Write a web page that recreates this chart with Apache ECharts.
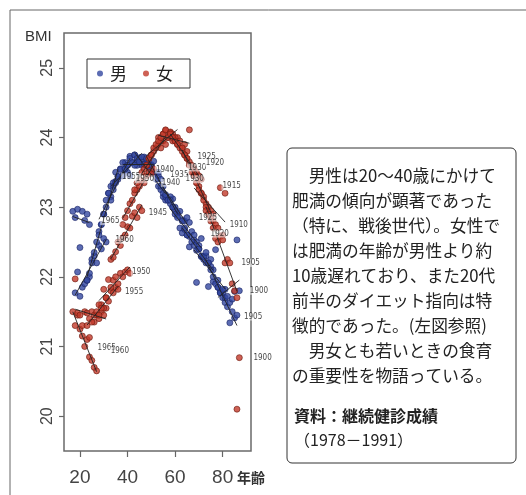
<!DOCTYPE html>
<html>
<head>
<meta charset="utf-8">
<title>BMI</title>
<script src="https://cdn.jsdelivr.net/npm/echarts@6/dist/echarts.min.js"></script>
<style>
    html, body {margin: 0; padding: 0; background: #fff;}
    #main {width: 526px; height: 495px;}
</style>
</head>
<body>
<div id="main"></div>
<script>
//出生コホート（1978-1991 の各年の値）
var cohortYears = [1965, 1960, 1955, 1950, 1945, 1940, 1935, 1930, 1925, 1920, 1915, 1910, 1905, 1900];

//男
var maleStartAge = [17, 18, 23, 28, 33, 38, 43, 48, 53, 58, 63, 68, 73, 78];
var maleBmi = [
    [22.94, 22.85, 22.97, 22.42, 22.94, 22.81, 22.9, 22.75],
    [21.77, 22.07, 21.72, 21.85, 21.9, 21.95, 22.0, 22.25, 22.3, 22.2, 22.45, 22.4, 22.55, 22.5],
    [21.95, 22.05, 22.2, 22.35, 22.5, 22.65, 22.75, 22.9, 23.0, 23.2, 23.15, 23.3, 23.37, 23.44],
    [22.6, 22.75, 22.9, 23.1, 23.2, 23.3, 23.35, 23.5, 23.4, 23.55, 23.45, 23.64, 23.5, 23.45],
    [23.1, 23.25, 23.35, 23.44, 23.54, 23.64, 23.55, 23.6, 23.73, 23.64, 23.75, 23.6, 23.68, 23.62],
    [23.45, 23.55, 23.6, 23.7, 23.64, 23.75, 23.68, 23.71, 23.6, 23.72, 23.66, 23.6, 23.55, 23.48],
    [23.6, 23.7, 23.65, 23.72, 23.62, 23.68, 23.55, 23.61, 23.5, 23.4, 23.3, 23.25, 23.15, 23.1],
    [23.7, 23.65, 23.6, 23.66, 23.5, 23.45, 23.3, 23.2, 23.15, 23.1, 23.05, 23.12, 23.0, 22.92],
    [23.5, 23.4, 23.3, 23.18, 23.1, 23.15, 23.0, 22.95, 22.88, 22.94, 22.82, 22.8, 22.85, 22.78],
    [23.1, 23.0, 22.9, 22.85, 22.7, 22.63, 22.68, 22.6, 22.58, 22.65, 22.53, 22.5, 22.45, 22.55],
    [22.8, 22.7, 22.6, 22.43, 22.5, 22.45, 22.38, 22.4, 22.29, 22.25, 22.3, 22.2, 22.15, 22.1],
    [22.6, 21.92, 22.4, 22.3, 22.29, 22.2, 21.86, 22.25, 21.93, 22.39, 21.95, 21.8, 21.77, 21.82],
    [22.35, 22.2, 22.1, 22.0, 21.9, 21.85, 21.77, 21.7, 21.63, 21.57, 21.34, 21.5, 21.41, 21.45],
    [21.85, 21.77, 21.82, 21.7, 21.72, 21.63, 21.68, 21.79, 22.53, 21.8]
];

//女
var femaleStartAge = [17, 18, 23, 28, 33, 38, 43, 48, 53, 58, 63, 68, 73, 86];
var femaleBmi = [
    [21.5, 21.3, 21.45, 21.25, 21.15, 21.0, 21.1, 20.85, 20.8, 20.7, 20.65],
    [21.97, 21.48, 21.45, 21.3, 21.5, 21.48, 21.13, 21.5, 21.35, 21.45, 21.4, 21.5, 21.45, 21.55],
    [21.3, 21.4, 21.35, 21.45, 21.5, 21.45, 21.6, 21.55, 21.7, 21.65, 21.8, 21.77, 21.85, 21.82],
    [21.6, 21.55, 21.82, 21.7, 21.96, 21.85, 21.95, 22.0, 21.9, 22.05, 22.0, 22.07, 22.1, 22.05],
    [22.25, 22.28, 22.36, 22.5, 22.45, 22.56, 22.6, 22.72, 22.7, 22.87, 22.92, 22.85, 23.0, 22.95],
    [22.75, 22.85, 22.95, 23.05, 23.1, 23.2, 23.25, 23.3, 23.38, 23.35, 23.45, 23.5, 23.48, 23.55],
    [23.25, 23.35, 23.4, 23.5, 23.55, 23.6, 23.7, 23.75, 23.8, 23.85, 23.9, 23.85, 23.95, 23.9],
    [23.6, 23.7, 23.75, 23.85, 23.9, 24.0, 23.95, 24.05, 24.1, 24.0, 24.08, 24.05, 23.95, 24.0],
    [23.95, 24.0, 24.05, 24.11, 24.0, 24.07, 23.95, 24.0, 23.9, 23.95, 23.85, 23.9, 23.8, 24.11],
    [24.05, 24.0, 23.95, 23.9, 23.85, 23.8, 23.75, 23.7, 23.65, 23.6, 23.55, 23.5, 23.45, 23.4],
    [23.85, 23.75, 23.7, 23.6, 23.5, 23.45, 23.35, 23.3, 23.2, 23.15, 23.05, 23.0, 22.95, 22.9],
    [23.45, 23.35, 23.25, 23.2, 23.1, 23.0, 22.9, 22.85, 22.8, 22.75, 22.7, 23.28, 22.6, 23.2],
    [22.95, 22.9, 22.8, 22.7, 22.55, 22.5, 22.58, 22.53, 22.2, 22.25, 22.2, 21.9, 21.8, 21.7],
    [20.1, 20.84]
];

//コホートの年ラベル [年齢, BMI, 出生年]
var maleTags = [[28.5, 22.8, '1965'], [34.5, 22.53, '1960'], [37.3, 23.43, '1955'], [43, 23.4, '1950'],
    [54, 23.35, '1940'], [57.5, 23.47, '1935'], [64, 23.4, '1930'], [69.5, 22.85, '1925'],
    [74.5, 22.62, '1920'], [88.5, 21.43, '1905'], [91, 21.8, '1900']];
var femaleTags = [[27, 20.98, '1965'], [32.5, 20.93, '1960'], [38.5, 21.79, '1955'], [41.5, 22.07, '1950'],
    [48.5, 22.92, '1945'], [51.5, 23.54, '1940'], [65, 23.57, '1930'], [69, 23.72, '1925'],
    [72.5, 23.64, '1920'], [79.5, 23.3, '1915'], [82.5, 22.75, '1910'], [87.5, 22.2, '1905'],
    [92.5, 20.84, '1900']];

var xTicks = [20, 40, 60, 80];
var yTicks = [20, 21, 22, 23, 24, 25];

var noteLines = [
    '　男性は20～40歳にかけて',
    '肥満の傾向が顕著であった',
    '（特に、戦後世代）。女性で',
    'は肥満の年齢が男性より約',
    '10歳遅れており、また20代',
    '前半のダイエット指向は特',
    '徴的であった。(左図参照)',
    '　男女とも若いときの食育',
    'の重要性を物語っている。'
];
var sourceTitle = '資料：継続健診成績';
var sourcePeriod = '（1978－1991）';

//点データ
var toPoints = function (startAge, bmi) {
    var pts = [];
    for (var i = 0; i < bmi.length; i++) {
        for (var j = 0; j < bmi[i].length; j++) {
            pts.push([startAge[i] + j, bmi[i][j]]);
        }
    }
    return pts;
};

//コホートごとの回帰直線
var fitLines = function (startAge, bmi) {
    var segs = [];
    for (var i = 0; i < bmi.length; i++) {
        var n = bmi[i].length;
        if (n < 3) continue;
        var sx = 0, sy = 0, sxx = 0, sxy = 0;
        for (var j = 0; j < n; j++) {
            var x = startAge[i] + j, y = bmi[i][j];
            sx += x; sy += y; sxx += x * x; sxy += x * y;
        }
        var b = (n * sxy - sx * sy) / (n * sxx - sx * sx);
        var a = (sy - b * sx) / n;
        var x1 = startAge[i], x2 = startAge[i] + n - 1;
        segs.push({coords: [[x1, a + b * x1], [x2, a + b * x2]]});
    }
    return segs;
};

var toTags = function (tags) {
    return tags.map(function (t) {
        return {value: [t[0], t[1]], name: t[2]};
    });
};

var chart = echarts.init(document.getElementById('main'));

var numFont = 'Liberation Sans, Arial, sans-serif';
var jpFont = '"Noto Sans CJK JP", sans-serif';

var option = {
    backgroundColor: '#fff',
    animation: false,
    grid: {
        left: 64, top: 33, width: 187, height: 418,
        show: true, borderColor: '#6a6a6a', borderWidth: 1.5
    },
    legend: {
        data: ['男', '女'],
        left: 87, top: 59,
        icon: 'circle', itemWidth: 6, itemHeight: 6, itemGap: 16,
        itemStyle: {borderWidth: 0},
        padding: [6, 17, 6, 10],
        borderColor: '#333', borderWidth: 1,
        textStyle: {fontSize: 17, color: '#222', fontFamily: jpFont, padding: [0, 0, 0, 2]}
    },
    xAxis: {
        type: 'value', min: 13.3, max: 91.9,
        axisLine: {show: false},
        axisTick: {show: true, customValues: xTicks, length: 6, lineStyle: {color: '#666', width: 1.2}},
        axisLabel: {customValues: xTicks, fontSize: 19, color: '#444', margin: 17, fontFamily: numFont},
        splitLine: {show: false}
    },
    yAxis: {
        type: 'value', min: 19.5, max: 25.5,
        axisLine: {show: false},
        axisTick: {show: true, customValues: yTicks, length: 5, lineStyle: {color: '#666', width: 1.2}},
        axisLabel: {customValues: yTicks, rotate: 90, fontSize: 16, color: '#444', margin: 8, fontFamily: numFont},
        splitLine: {show: false}
    },
    series: [
        {
            name: '男', type: 'scatter', z: 2,
            symbolSize: 6,
            itemStyle: {color: '#3347a0', borderColor: '#1b2566', borderWidth: 0.8},
            data: toPoints(maleStartAge, maleBmi)
        },
        {
            name: '女', type: 'scatter', z: 3,
            symbolSize: 6,
            itemStyle: {color: '#c23a2a', borderColor: '#6e1a10', borderWidth: 0.8},
            data: toPoints(femaleStartAge, femaleBmi)
        },
        {
            name: 'fit', type: 'lines', coordinateSystem: 'cartesian2d', z: 4, silent: true,
            lineStyle: {color: '#222', width: 1, opacity: 0.9},
            data: fitLines(maleStartAge, maleBmi).concat(fitLines(femaleStartAge, femaleBmi))
        },
        {
            name: 'tag', type: 'scatter', z: 5, silent: true, clip: false,
            symbolSize: 0,
            label: {
                show: true, position: 'right', distance: 0, formatter: '{b}',
                fontSize: 8, color: '#111', fontFamily: '"Liberation Sans Narrow", "DejaVu Sans Condensed", sans-serif',
                backgroundColor: 'rgba(255,255,255,0.7)', padding: [0, 1]
            },
            data: toTags(maleTags).concat(toTags(femaleTags))
        }
    ],
    graphic: [
        //外枠
        {type: 'rect', z: -10, shape: {x: 10, y: 10, width: 700, height: 700},
            style: {fill: 'none', stroke: '#666', lineWidth: 1}},
        {type: 'text', x: 25, y: 36.5,
            style: {text: 'BMI', font: '15px ' + numFont, fill: '#333', verticalAlign: 'middle'}},
        {type: 'text', x: 237, y: 478,
            style: {text: '年齢', font: 'bold 14px ' + jpFont, fill: '#333', verticalAlign: 'middle'}},
        //説明枠
        {type: 'rect', shape: {x: 287, y: 148, width: 229, height: 315, r: 5},
            style: {fill: '#fff', stroke: '#333', lineWidth: 1}},
        {type: 'text', x: 292, y: 163.5,
            style: {text: noteLines.join('\n'), font: '16.7px ' + jpFont, fill: '#222', lineHeight: 25, verticalAlign: 'top'}},
        {type: 'text', x: 294, y: 416,
            style: {text: sourceTitle, font: 'bold 16px ' + jpFont, fill: '#222', verticalAlign: 'middle'}},
        {type: 'text', x: 294, y: 440,
            style: {text: sourcePeriod, font: '16px ' + jpFont, fill: '#222', verticalAlign: 'middle'}}
    ]
};

chart.setOption(option);
</script>
</body>
</html>
